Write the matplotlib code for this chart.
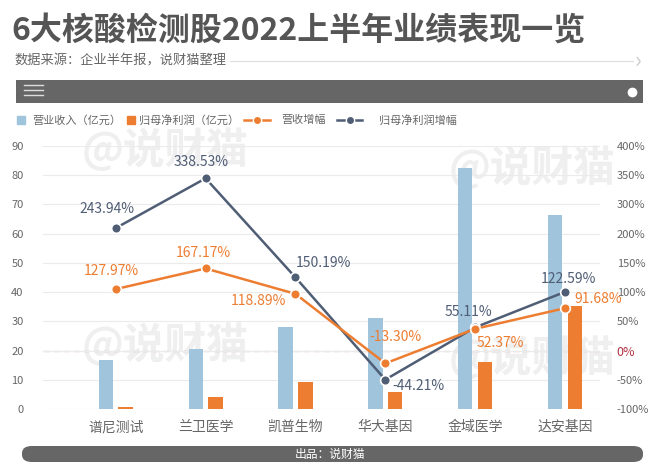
import numpy as np
import matplotlib
matplotlib.use("Agg")
import matplotlib.pyplot as plt
from matplotlib.lines import Line2D
from matplotlib.patches import Rectangle, FancyBboxPatch

plt.rcParams['font.family'] = ['Noto Sans CJK SC', 'DejaVu Sans']

# Données
companies = ["谱尼测试", "兰卫医学", "凯普生物", "华大基因", "金域医学", "达安基因"]
revenue = [16.8, 20.5, 28.0, 31.3, 82.6, 66.4]          # 营业收入（亿元）
net_profit = [0.8, 4.2, 9.4, 5.7, 16.0, 35.4]          # 归母净利润（亿元）
revenue_growth = [127.97, 167.17, 118.89, -13.30, 52.37, 91.68]   # 营收增幅 %
profit_growth = [243.94, 338.53, 150.19, -44.21, 55.11, 122.59]   # 归母净利润增幅 %
right_tick_labels = ["-100%", "-50%", "0%", "50%", "100%", "150%", "200%", "300%", "350%", "400%"]
legend_labels = ["营业收入（亿元）", "归母净利润（亿元）", "营收增幅", "归母净利润增幅"]

# Couleurs
c_blue = "#9fc4dc"
c_orange = "#ed7d31"
c_dark = "#4f5d75"
c_grey = "#666666"

W, H = 660, 473
def fx(px):
    return px / W
def fy(py):
    return 1 - py / H

fig = plt.figure(figsize=(6.6, 4.73), dpi=100)
fig.patch.set_facecolor("white")

# En-tête
fig.text(fx(11), fy(31), "6大核酸检测股2022上半年业绩表现一览", fontsize=23, fontweight="bold",
         color="#555555", va="center", ha="left")
fig.text(fx(14), fy(61), "数据来源：企业半年报，说财猫整理", fontsize=9.5, color="#666666",
         va="center", ha="left")
fig.add_artist(Line2D([fx(230), fx(633)], [fy(61), fy(61)], color="#dddddd", lw=0.8))
fig.text(fx(638), fy(61), "›", fontsize=16, color="#cccccc", va="center", ha="center")
fig.add_artist(Rectangle((fx(16), fy(103)), fx(643) - fx(16), fy(80) - fy(103),
                         facecolor=c_grey, edgecolor="none"))
for yy in [85, 90, 95]:
    fig.add_artist(Line2D([fx(24), fx(43)], [fy(yy), fy(yy)], color="#dddddd", lw=1.0))
fig.add_artist(Line2D([fx(632)], [fy(92)], marker="o", ms=6, color="white", mec="white", ls="none"))

# Filigranes
for (x, y) in [(165, 150), (165, 345), (532, 168), (532, 358)]:
    fig.text(fx(x), fy(y), "@说财猫", fontsize=30, fontweight="bold", color="#efefef",
             ha="center", va="center", zorder=-1)

# Graphique principal
ax = fig.add_axes([fx(43), fy(409), fx(600) - fx(43), fy(146) - fy(409)])
ax.patch.set_alpha(0)
x = np.arange(len(companies))
bw = 0.16
ax.bar(x - 0.11, revenue, bw, color=c_blue, zorder=2)
ax.bar(x + 0.11, net_profit, bw, color=c_orange, zorder=2)
ax.set_ylim(0, 90)
ax.set_xlim(-0.81, 5.39)
ax.set_yticks(np.arange(0, 91, 10))
ax.grid(axis="y", color="#ebebeb", lw=0.8, zorder=0)
ax.axhline(20, color="#d9a3a3", lw=0.9, ls=(0, (5, 3)), zorder=1)
ax.set_xticks(x)
ax.set_xticklabels(companies, fontsize=10, color="#666666")
ax.tick_params(axis="x", length=0, pad=8)
ax.tick_params(axis="y", length=0, pad=14, labelsize=8, labelcolor="#666666")
for s in ax.spines.values():
    s.set_visible(False)

ax2 = ax.twinx()
ax2.set_ylim(-100, 400)
ax2.set_yticks(np.linspace(-100, 400, 10))
ax2.set_yticklabels(right_tick_labels)
ax2.tick_params(axis="y", length=0, pad=12, labelsize=8, labelcolor="#666666")
ax2.get_yticklabels()[2].set_color("#b03040")
ax2.get_yticklabels()[2].set_fontsize(9)
for s in ax2.spines.values():
    s.set_visible(False)

ax2.plot(x, profit_growth, color=c_dark, lw=1.8, marker="o", ms=7, mec="white", mew=1.2, zorder=4)
ax2.plot(x, revenue_growth, color=c_orange, lw=1.8, marker="o", ms=7, mec="white", mew=1.2, zorder=5)

# Étiquettes des valeurs
dark_offsets = [(-9, 19, "center"), (-4, 16, "center"), (0, 14, "left"),
                (7, -6, "left"), (-7, 15, "center"), (3, 13, "center")]
orange_offsets = [(-4, 18, "center"), (-2, 15, "center"), (-37, -7, "center"),
                  (10, 26, "center"), (25, -14, "center"), (9, 9, "left")]
for i, v in enumerate(profit_growth):
    dx, dy, ha = dark_offsets[i]
    ax2.annotate(f"{v:.2f}%", (x[i], v), xytext=(dx, dy), textcoords="offset pixels",
                 ha=ha, va="center", fontsize=10, color=c_dark, zorder=6)
for i, v in enumerate(revenue_growth):
    dx, dy, ha = orange_offsets[i]
    ax2.annotate(f"{v:.2f}%", (x[i], v), xytext=(dx, dy), textcoords="offset pixels",
                 ha=ha, va="center", fontsize=10, color=c_orange, zorder=6)

# Légende (placée à la main)
ly = fy(120)
fig.add_artist(Line2D([fx(21)], [ly], marker="s", ms=5.5, color=c_blue, ls="none"))
fig.add_artist(Line2D([fx(131)], [ly], marker="s", ms=5.5, color=c_orange, ls="none"))
fig.add_artist(Line2D([fx(244), fx(270)], [ly, ly], color=c_orange, lw=1.8))
fig.add_artist(Line2D([fx(257)], [ly], marker="o", ms=6, color=c_orange, mec="white", ls="none"))
fig.add_artist(Line2D([fx(337), fx(362)], [ly, ly], color=c_dark, lw=1.8))
fig.add_artist(Line2D([fx(349.5)], [ly], marker="o", ms=6, color=c_dark, mec="white", ls="none"))
for lx, lab in zip([32, 139, 281, 379], legend_labels):
    fig.text(fx(lx), ly, lab, fontsize=8, color="#666666", ha="left", va="center")

# Pied de page
fig.add_artist(FancyBboxPatch((fx(22), fy(462)), fx(643) - fx(22), fy(446) - fy(462),
                              boxstyle="round,pad=0,rounding_size=0.015",
                              facecolor=c_grey, edgecolor="none", transform=fig.transFigure))
fig.text(fx(330), fy(454), "出品：说财猫", fontsize=8.5, color="white", ha="center", va="center")

fig.savefig("out.png", dpi=100)
